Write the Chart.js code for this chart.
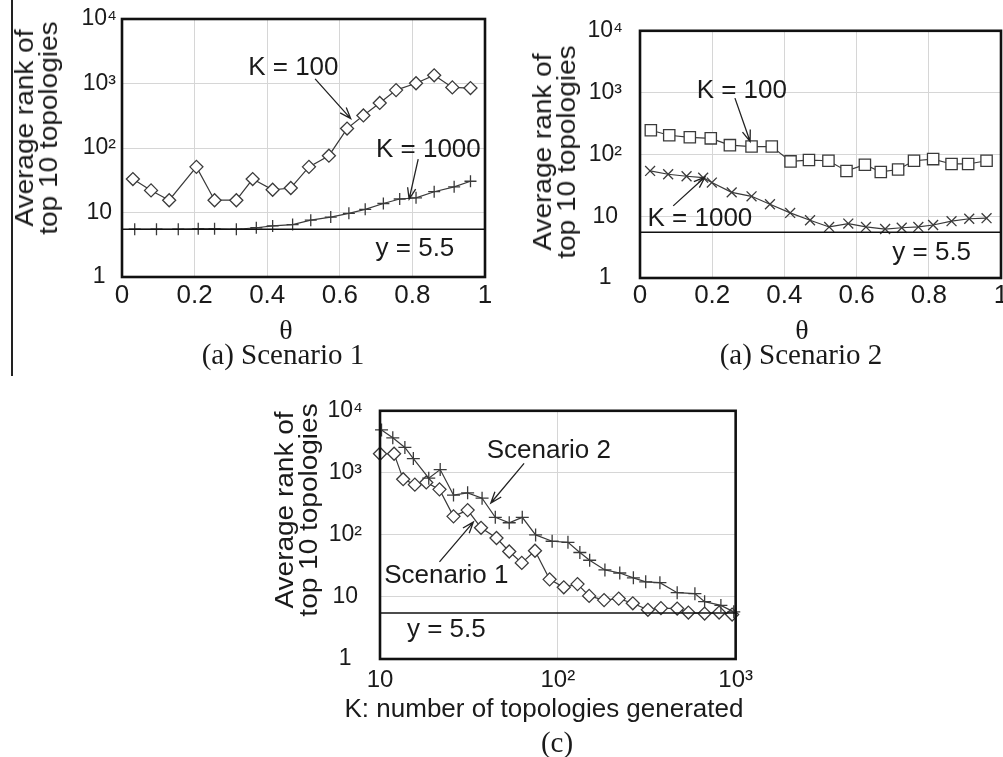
<!DOCTYPE html>
<html>
<head>
<meta charset="utf-8">
<script src="https://cdn.jsdelivr.net/npm/chart.js@4.4.1/dist/chart.umd.min.js"></script>
<style>
  html, body { margin: 0; padding: 0; background: #fff; overflow: hidden; width: 1003px; height: 757px; }
  canvas { position: absolute; }
  .lbl { position: absolute; transform: translate(-50%, -50%); white-space: nowrap; color: #1a1a1a; }
  .sans { font-family: 'Liberation Sans', Arial, sans-serif; }
  .serif { font-family: 'Liberation Serif', 'Times New Roman', serif; }
  .ytitle { transform: translate(-50%, -50%) rotate(-90deg) scaleX(1.12); text-align: center; font-size: 25px; line-height: 24px; }
</style>
</head>
<body>
<div style="position:absolute;left:11px;top:0;width:2px;height:376px;background:#222"></div>
<canvas id="chartA" width="500" height="380" style="left:0;top:0"></canvas>
<canvas id="chartB" width="520" height="380" style="left:500px;top:0"></canvas>
<canvas id="chartC" width="500" height="377" style="left:260px;top:380px"></canvas>

<div class="lbl sans ytitle" style="left:36px;top:128px">Average rank of<br>top 10 topologies</div>
<div class="lbl sans ytitle" style="left:554px;top:152px">Average rank of<br>top 10 topologies</div>
<div class="lbl sans ytitle" style="left:296px;top:510px">Average rank of<br>top 10 topologies</div>

<div class="lbl serif" style="left:286px;top:330px;font-size:28px">θ</div>
<div class="lbl serif" style="left:283px;top:354px;font-size:29px">(a) Scenario 1</div>
<div class="lbl serif" style="left:802px;top:330px;font-size:28px">θ</div>
<div class="lbl serif" style="left:801px;top:354px;font-size:29px">(a) Scenario 2</div>
<div class="lbl sans" style="left:544px;top:708px;font-size:26px">K: number of topologies generated</div>
<div class="lbl serif" style="left:557px;top:742px;font-size:29px">(c)</div>

<script>
// shared axis ticks
const rankTicks = [1, 10, 100, 1000, 10000];
const rankTickLabels = ['1', '10', '10²', '10³', '10⁴'];
const thetaTicks = [0, 0.2, 0.4, 0.6, 0.8, 1];
const thetaTickLabels = ['0', '0.2', '0.4', '0.6', '0.8', '1'];
const kTicks = [10, 100, 1000];
const kTickLabels = ['10', '10²', '10³'];
const refLevel = 5.5;

// (a) Scenario 1
const thetaA100 = [0.03, 0.08, 0.13, 0.205, 0.255, 0.315, 0.36, 0.415, 0.465, 0.515, 0.57, 0.62, 0.665, 0.71, 0.755, 0.81, 0.86, 0.91, 0.96];
const rankA100 = [33, 22, 15.5, 51, 15.5, 15.5, 33, 22.5, 24, 51, 76, 200, 320, 500, 790, 1010, 1340, 870, 850];
const thetaA1000 = [0.035, 0.095, 0.155, 0.21, 0.255, 0.315, 0.37, 0.415, 0.47, 0.52, 0.575, 0.625, 0.67, 0.72, 0.765, 0.81, 0.86, 0.915, 0.96];
const rankA1000 = [5.5, 5.5, 5.5, 5.6, 5.6, 5.5, 5.8, 6.2, 6.5, 7.6, 8.5, 9.7, 11.2, 13.8, 16.2, 16.9, 21, 25, 30.5];

// (a) Scenario 2
const thetaB100 = [0.03, 0.081, 0.138, 0.196, 0.249, 0.309, 0.365, 0.417, 0.468, 0.522, 0.572, 0.623, 0.667, 0.715, 0.759, 0.812, 0.863, 0.909, 0.96];
const rankB100 = [246, 204, 189, 182, 141, 134, 134, 77, 81, 79, 54, 68, 52, 57, 79, 84, 70, 70, 79];
const thetaB1000 = [0.028, 0.078, 0.129, 0.175, 0.199, 0.254, 0.309, 0.36, 0.416, 0.471, 0.524, 0.577, 0.626, 0.679, 0.725, 0.771, 0.812, 0.863, 0.912, 0.96];
const rankB1000 = [54, 47.7, 44.3, 42, 35, 24.3, 21, 15.6, 11.3, 8.6, 6.7, 7.6, 6.7, 6.2, 6.5, 6.7, 7.2, 8.3, 9.1, 9.3];

// (c) rank vs K
const kS2 = [10.2, 11.8, 13.8, 15.4, 18.8, 21.8, 25.9, 31.1, 37.5, 44.5, 53.3, 63.1, 75, 92.9, 114, 133, 151, 184, 223, 266, 312, 375, 469, 590, 669, 826, 976];
const rankS2 = [4920, 3670, 2570, 1700, 820, 1130, 438, 476, 390, 192, 157, 192, 100, 79, 76, 52, 39, 27.3, 24.3, 20.3, 17.5, 17, 11.7, 11.3, 8.4, 7.3, 5.75];
const kS1 = [10, 12, 13.5, 15.7, 18.2, 21.6, 25.9, 31.1, 37, 45.2, 53.3, 62.7, 74.4, 89.9, 108, 129, 150, 182, 220, 264, 321, 380, 469, 542, 669, 807, 955];
const rankS1 = [2030, 2030, 791, 646, 701, 542, 199, 251, 130, 89, 54, 35.4, 55.6, 19.2, 14.3, 16.1, 10.4, 8.9, 9.4, 7.9, 6.2, 6.6, 6.5, 5.6, 5.4, 5.6, 5.2];

// callouts, in data units
const notesA = [
    { text: 'K = 100', x: 0.472, y: 1730 },
    { text: 'K = 1000', x: 0.844, y: 94 },
    { text: 'y = 5.5', x: 0.807, y: 2.75 }
];
const arrowsA = [
    { x1: 0.532, y1: 1180, x2: 0.63, y2: 286 },
    { x1: 0.816, y1: 67, x2: 0.791, y2: 16.1 }
];
const notesB = [
    { text: 'K = 100', x: 0.282, y: 1050 },
    { text: 'K = 1000', x: 0.166, y: 9.1 },
    { text: 'y = 5.5', x: 0.808, y: 2.6 }
];
const arrowsB = [
    { x1: 0.263, y1: 813, x2: 0.305, y2: 162 },
    { x1: 0.092, y1: 14.7, x2: 0.18, y2: 43 }
];
const notesC = [
    { text: 'Scenario 2', x: 89, y: 2290 },
    { text: 'Scenario 1', x: 23.6, y: 21.6 },
    { text: 'y = 5.5', x: 23.6, y: 2.9 }
];
const arrowsC = [
    { x1: 64.6, y1: 1425, x2: 42, y2: 327 },
    { x1: 21.6, y1: 36.7, x2: 33.5, y2: 161 }
];

const ink = '#1a1a1a';
const lineInk = '#3a3a3a';
const gridInk = '#d6d6d6';
const sans = "'Liberation Sans', Arial, sans-serif";

const toPts = (xs, ys) => xs.map((v, i) => ({ x: v, y: ys[i] }));

function series(xs, ys, style, radius) {
    return {
        data: toPts(xs, ys),
        showLine: true,
        borderColor: lineInk,
        borderWidth: 1.2,
        pointStyle: style,
        pointRadius: radius,
        pointBorderColor: lineInk,
        pointBackgroundColor: '#fff',
        pointBorderWidth: 1.3,
        clip: false
    };
}

function refLine(xMin, xMax) {
    return {
        data: [{ x: xMin, y: refLevel }, { x: xMax, y: refLevel }],
        showLine: true,
        borderColor: '#111',
        borderWidth: 1.5,
        pointRadius: 0
    };
}

// callout text, arrows and the box round the plot
function notesPlugin(notes, arrows) {
    return {
        id: 'notes',
        afterDatasetsDraw(chart) {
            const { ctx, chartArea: a } = chart;
            const x = chart.scales.x, y = chart.scales.y;
            ctx.save();
            ctx.fillStyle = ink;
            ctx.font = '26px ' + sans;
            ctx.textAlign = 'center';
            ctx.textBaseline = 'middle';
            notes.forEach(n => ctx.fillText(n.text, x.getPixelForValue(n.x), y.getPixelForValue(n.y)));

            ctx.strokeStyle = '#222';
            ctx.lineWidth = 1.3;
            arrows.forEach(r => {
                const x1 = x.getPixelForValue(r.x1), y1 = y.getPixelForValue(r.y1);
                const x2 = x.getPixelForValue(r.x2), y2 = y.getPixelForValue(r.y2);
                const ang = Math.atan2(y2 - y1, x2 - x1);
                const h = 12;
                ctx.beginPath();
                ctx.moveTo(x1, y1);
                ctx.lineTo(x2, y2);
                ctx.moveTo(x2 - h * Math.cos(ang - 0.35), y2 - h * Math.sin(ang - 0.35));
                ctx.lineTo(x2, y2);
                ctx.lineTo(x2 - h * Math.cos(ang + 0.35), y2 - h * Math.sin(ang + 0.35));
                ctx.stroke();
            });

            ctx.strokeStyle = '#111';
            ctx.lineWidth = 2.6;
            ctx.strokeRect(a.left, a.top, a.right - a.left, a.bottom - a.top);
            ctx.restore();
        }
    };
}

function rankAxis(width, pad) {
    return {
        type: 'logarithmic',
        min: 1,
        max: 10000,
        afterBuildTicks: s => { s.ticks = rankTicks.map(v => ({ value: v })); },
        afterFit: s => { s.width = width; },
        ticks: {
            callback: (v, i) => rankTickLabels[i],
            font: { family: sans, size: 23 },
            color: ink,
            crossAlign: 'center',
            padding: pad
        },
        grid: { color: gridInk, drawTicks: false },
        border: { display: false }
    };
}

function bottomAxis(type, min, max, ticks, labels, height, size, pad) {
    return {
        type: type,
        min: min,
        max: max,
        afterBuildTicks: s => { s.ticks = ticks.map(v => ({ value: v })); },
        afterFit: s => { s.height = height; },
        ticks: {
            callback: (v, i) => labels[i],
            font: { family: sans, size: size },
            color: ink,
            padding: pad,
            autoSkip: false,
            maxRotation: 0
        },
        grid: { color: gridInk, drawTicks: false },
        border: { display: false }
    };
}

function makeChart(id, datasets, xAxis, yAxis, padding, notes, arrows) {
    return new Chart(document.getElementById(id), {
        type: 'scatter',
        data: { datasets: datasets },
        options: {
            responsive: false,
            animation: false,
            events: [],
            layout: { padding: padding },
            plugins: { legend: { display: false }, tooltip: { enabled: false } },
            scales: { x: xAxis, y: yAxis }
        },
        plugins: [notesPlugin(notes, arrows)]
    });
}

makeChart('chartA',
    [refLine(0, 1), series(thetaA100, rankA100, 'rectRot', 6.5), series(thetaA1000, rankA1000, 'cross', 6)],
    bottomAxis('linear', 0, 1, thetaTicks, thetaTickLabels, 103, 26, 3),
    rankAxis(122, 5),
    { top: 19, right: 15, left: 0, bottom: 0 },
    notesA, arrowsA);

makeChart('chartB',
    [refLine(0, 1), series(thetaB100, rankB100, 'rect', 8), series(thetaB1000, rankB1000, 'crossRot', 7)],
    bottomAxis('linear', 0, 1, thetaTicks, thetaTickLabels, 102, 26, 2),
    rankAxis(140, 17),
    { top: 21, right: 19, left: 0, bottom: 0 },
    notesB, arrowsB);

makeChart('chartC',
    [refLine(10, 1000), series(kS2, rankS2, 'cross', 6.5), series(kS1, rankS1, 'rectRot', 6.5)],
    bottomAxis('logarithmic', 10, 1000, kTicks, kTickLabels, 98, 24, 7),
    rankAxis(120, 17),
    { top: 22, right: 18, left: 0, bottom: 0 },
    notesC, arrowsC);
</script>
</body>
</html>
